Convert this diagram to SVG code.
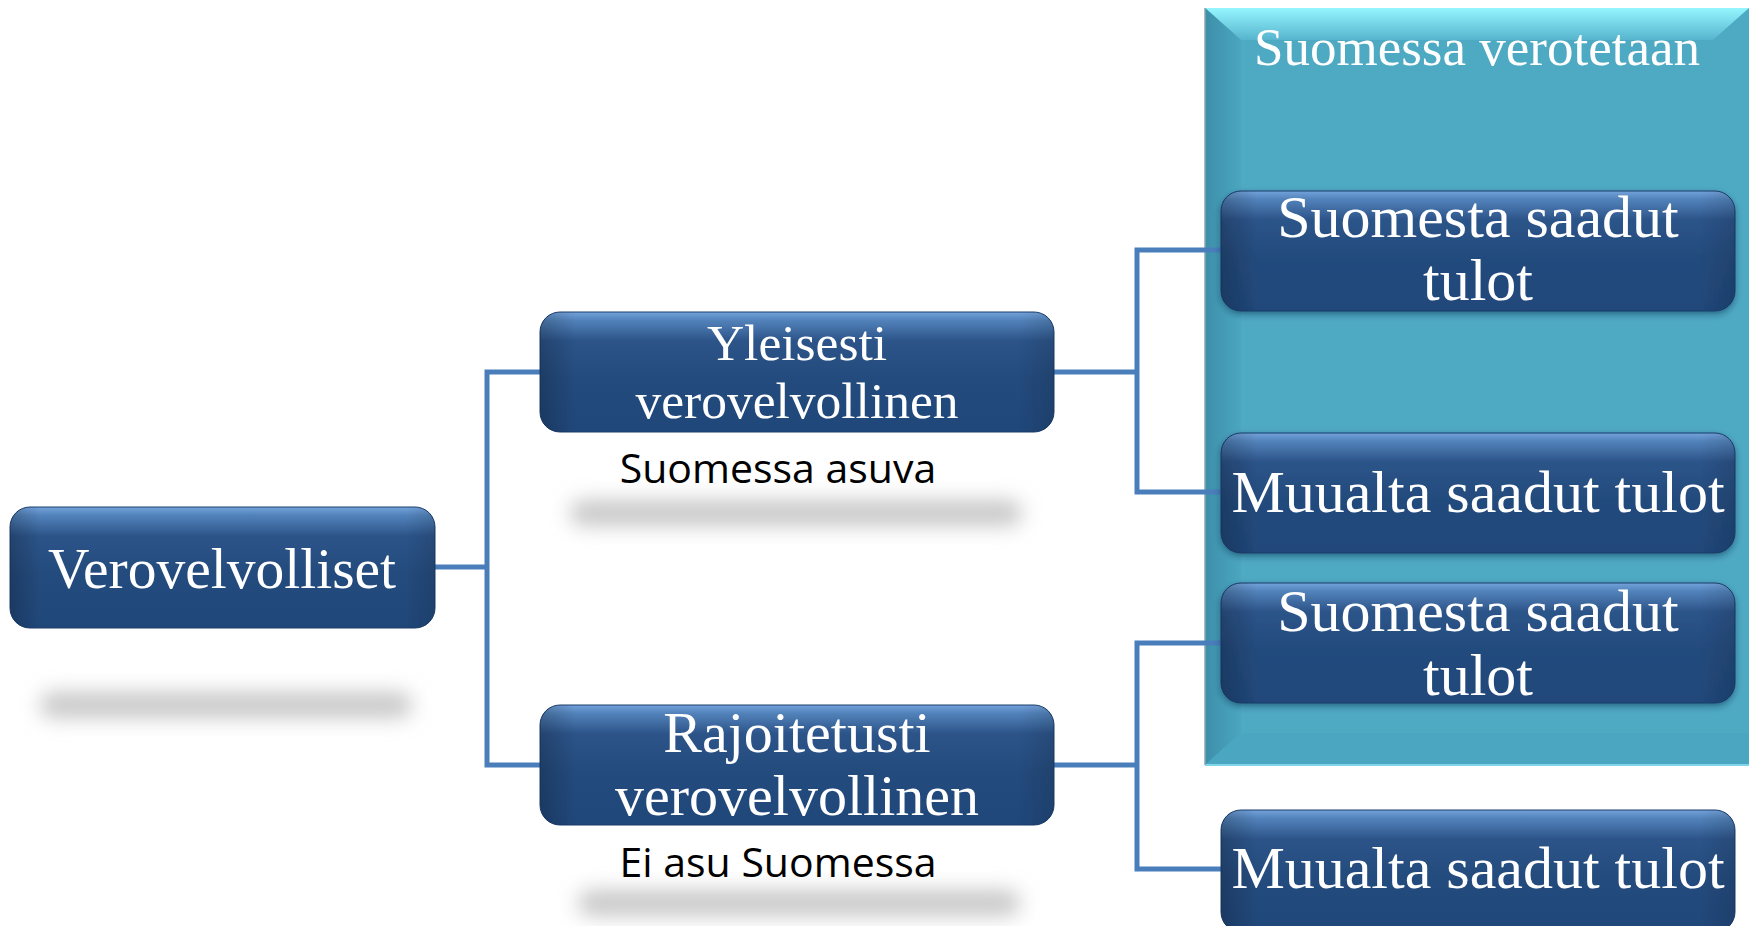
<svg xmlns="http://www.w3.org/2000/svg" width="1749" height="926" viewBox="0 0 1749 926">
<defs>
<linearGradient id="dk" x1="0" y1="0" x2="0" y2="1">
<stop offset="0" stop-color="#74a3dc"/>
<stop offset="0.07" stop-color="#5282ba"/>
<stop offset="0.24" stop-color="#2c5489"/>
<stop offset="0.55" stop-color="#244b7d"/>
<stop offset="1" stop-color="#20477a"/>
</linearGradient>
<linearGradient id="side" x1="0" y1="0" x2="1" y2="0">
<stop offset="0" stop-color="#000" stop-opacity="0.2"/>
<stop offset="0.07" stop-color="#000" stop-opacity="0"/>
<stop offset="0.93" stop-color="#000" stop-opacity="0"/>
<stop offset="1" stop-color="#000" stop-opacity="0.12"/>
</linearGradient>
<linearGradient id="tealTop" x1="0" y1="0" x2="0" y2="1">
<stop offset="0" stop-color="#95f6ff"/>
<stop offset="1" stop-color="#56b4cd"/>
</linearGradient>
<linearGradient id="tealLeft" x1="0" y1="0" x2="1" y2="0">
<stop offset="0" stop-color="#3d8fa9"/>
<stop offset="1" stop-color="#4ba6c0"/>
</linearGradient>
<filter id="blur" x="-20%" y="-200%" width="140%" height="500%">
<feGaussianBlur stdDeviation="10"/>
</filter>
<filter id="ds" x="-5%" y="-10%" width="110%" height="130%">
<feDropShadow dx="0" dy="3" stdDeviation="3" flood-color="#0b2440" flood-opacity="0.45"/>
</filter>
<style>
.box{fill:url(#dk);stroke:#1b3d6b;stroke-width:1}
.ov{fill:url(#side)}
.t{font-family:"Liberation Serif","Times New Roman",serif;fill:#ffffff;text-anchor:middle}
.lbl{font-family:"Open Sans","Noto Sans",sans-serif;fill:#000000;text-anchor:middle;font-size:41px}
.sh{fill:#c8c8c8;filter:url(#blur)}
.con{fill:none;stroke:#4a7ebb;stroke-width:5;stroke-linejoin:miter}
</style>
</defs>
<rect width="1749" height="926" fill="#ffffff"/>

<g id="container">
<rect x="1205" y="8" width="544" height="757" fill="#4ea9c3"/>
<polygon points="1205,8 1749,8 1749,8 1713,40 1241,40" fill="url(#tealTop)"/>
<polygon points="1205,8 1241,40 1241,733 1205,765" fill="url(#tealLeft)"/>
<polygon points="1205,765 1241,733 1749,733 1749,765" fill="#4ba7c1"/>
<line x1="1205" y1="765" x2="1749" y2="765" stroke="#7fd6ea" stroke-width="2"/>
<line x1="1205" y1="8" x2="1205" y2="765" stroke="#8aa6b3" stroke-width="1.5"/>
<text class="t" x="1477" y="65" font-size="53">Suomessa verotetaan</text>
</g>

<g id="connectors">
<path class="con" d="M435,567 H487"/>
<path class="con" d="M540,372 H487 V765 H540"/>
<path class="con" d="M1054,372 H1137"/>
<path class="con" d="M1221,250 H1137 V492 H1221"/>
<path class="con" d="M1054,765 H1137"/>
<path class="con" d="M1221,643 H1137 V869 H1221"/>
</g>

<g id="verovelvolliset">
<rect class="sh" x="40" y="692" width="372" height="26" rx="13"/>
<rect class="box" x="10" y="507" width="425" height="121" rx="20"/>
<rect class="ov" x="10" y="507" width="425" height="121" rx="20"/>
<text class="t" x="222" y="588" font-size="57.5">Verovelvolliset</text>
</g>

<g id="yleisesti">
<rect class="sh" x="570" y="500" width="452" height="26" rx="13"/>
<rect class="box" x="540" y="312" width="514" height="120" rx="20"/>
<rect class="ov" x="540" y="312" width="514" height="120" rx="20"/>
<text class="t" x="797" y="360" font-size="51.5">Yleisesti</text>
<text class="t" x="797" y="418" font-size="51.5">verovelvollinen</text>
<text class="lbl" x="778" y="483">Suomessa asuva</text>
</g>

<g id="rajoitetusti">
<rect class="sh" x="578" y="890" width="442" height="26" rx="13"/>
<rect class="box" x="540" y="705" width="514" height="120" rx="20"/>
<rect class="ov" x="540" y="705" width="514" height="120" rx="20"/>
<text class="t" x="797" y="752" font-size="58">Rajoitetusti</text>
<text class="t" x="797" y="815" font-size="58">verovelvollinen</text>
<text class="lbl" x="778" y="877">Ei asu Suomessa</text>
</g>

<g id="suomesta1" filter="url(#ds)">
<rect class="box" x="1221" y="191" width="514" height="120" rx="20"/>
<rect class="ov" x="1221" y="191" width="514" height="120" rx="20"/>
<text class="t" x="1478" y="237" font-size="60">Suomesta saadut</text>
<text class="t" x="1478" y="300" font-size="60">tulot</text>
</g>

<g id="muualta1" filter="url(#ds)">
<rect class="box" x="1221" y="433" width="514" height="120" rx="20"/>
<rect class="ov" x="1221" y="433" width="514" height="120" rx="20"/>
<text class="t" x="1478" y="512" font-size="60">Muualta saadut tulot</text>
</g>

<g id="suomesta2" filter="url(#ds)">
<rect class="box" x="1221" y="583" width="514" height="120" rx="20"/>
<rect class="ov" x="1221" y="583" width="514" height="120" rx="20"/>
<text class="t" x="1478" y="631" font-size="60">Suomesta saadut</text>
<text class="t" x="1478" y="695" font-size="60">tulot</text>
</g>

<g id="muualta2">
<rect class="box" x="1221" y="810" width="514" height="122" rx="20"/>
<rect class="ov" x="1221" y="810" width="514" height="122" rx="20"/>
<text class="t" x="1478" y="888" font-size="60">Muualta saadut tulot</text>
</g>
</svg>
